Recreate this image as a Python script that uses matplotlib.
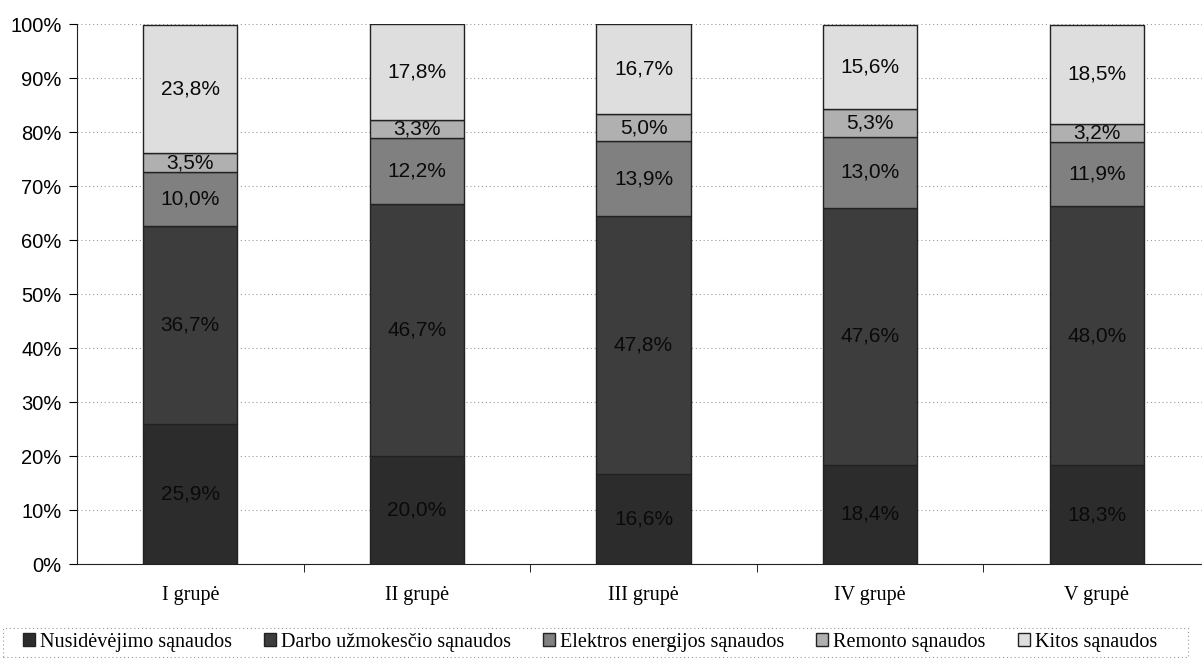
import matplotlib
matplotlib.use("Agg")
import matplotlib.pyplot as plt
import numpy as np
from matplotlib.patches import Rectangle

categories = ["I grupė", "II grupė", "III grupė", "IV grupė", "V grupė"]
series_names = ["Nusidėvėjimo sąnaudos", "Darbo užmokesčio sąnaudos",
                "Elektros energijos sąnaudos", "Remonto sąnaudos", "Kitos sąnaudos"]
nusidevejimo = [25.9, 20.0, 16.6, 18.4, 18.3]
darbo = [36.7, 46.7, 47.8, 47.6, 48.0]
elektros = [10.0, 12.2, 13.9, 13.0, 11.9]
remonto = [3.5, 3.3, 5.0, 5.3, 3.2]
kitos = [23.8, 17.8, 16.7, 15.6, 18.5]
yticks = [0, 10, 20, 30, 40, 50, 60, 70, 80, 90, 100]

series = [nusidevejimo, darbo, elektros, remonto, kitos]
colors = ["#2c2c2c", "#3d3d3d", "#808080", "#b0b0b0", "#dedede"]

W, H = 1202, 666
fig = plt.figure(figsize=(W / 100, H / 100), dpi=100)
ax = fig.add_axes([77 / W, 102 / H, 1133 / W, 540 / H])

x = np.arange(len(categories))
bottom = np.zeros(len(categories))
for vals, col, name in zip(series, colors, series_names):
    v = np.array(vals)
    ax.bar(x, v, 0.415, bottom=bottom, color=col, edgecolor="#222222",
           linewidth=1.0, label=name, zorder=3)
    for xi, b, h in zip(x, bottom, v):
        ax.text(xi, b + h / 2, f"{h:.1f}%".replace(".", ","), ha="center", va="center",
                fontsize=15, family="Liberation Sans", color="#0a0a0a", zorder=4)
    bottom += v

ax.set_xlim(-0.5, len(categories) - 0.5)
ax.set_ylim(0, 100)
ax.set_yticks(yticks)
ax.set_yticklabels([f"{t}%" for t in yticks], fontsize=14.5, family="Liberation Sans")
ax.yaxis.grid(True, linestyle=(0, (1, 2.5)), color="#999999", linewidth=0.8, zorder=0)
ax.set_xticks(x)
ax.set_xticklabels(categories, fontsize=14.5, family="Liberation Serif")
ax.tick_params(axis="x", length=0, pad=16)
ax.set_xticks(np.arange(len(categories) - 1) + 0.5, minor=True)
ax.tick_params(axis="x", which="minor", length=6, direction="out")
ax.tick_params(axis="y", length=6, direction="out", pad=5)
for s in ["top", "right"]:
    ax.spines[s].set_visible(False)
ax.spines["left"].set_color("#222222")
ax.spines["bottom"].set_color("#222222")

leg = fig.legend(loc="center", bbox_to_anchor=(590 / W, 1 - 642 / H), ncol=5,
                 prop={"family": "Liberation Serif", "size": 14.5},
                 handlelength=0.6, handleheight=0.6, handletextpad=0.25,
                 columnspacing=1.58, frameon=False)
fig.patches.append(Rectangle((3 / W, 1 - 657 / H), 1185 / W, 29 / H,
                             transform=fig.transFigure, fill=False,
                             edgecolor="#999999", linestyle=(0, (1, 2.5)),
                             linewidth=0.8))

fig.savefig("out.png", dpi=100)
